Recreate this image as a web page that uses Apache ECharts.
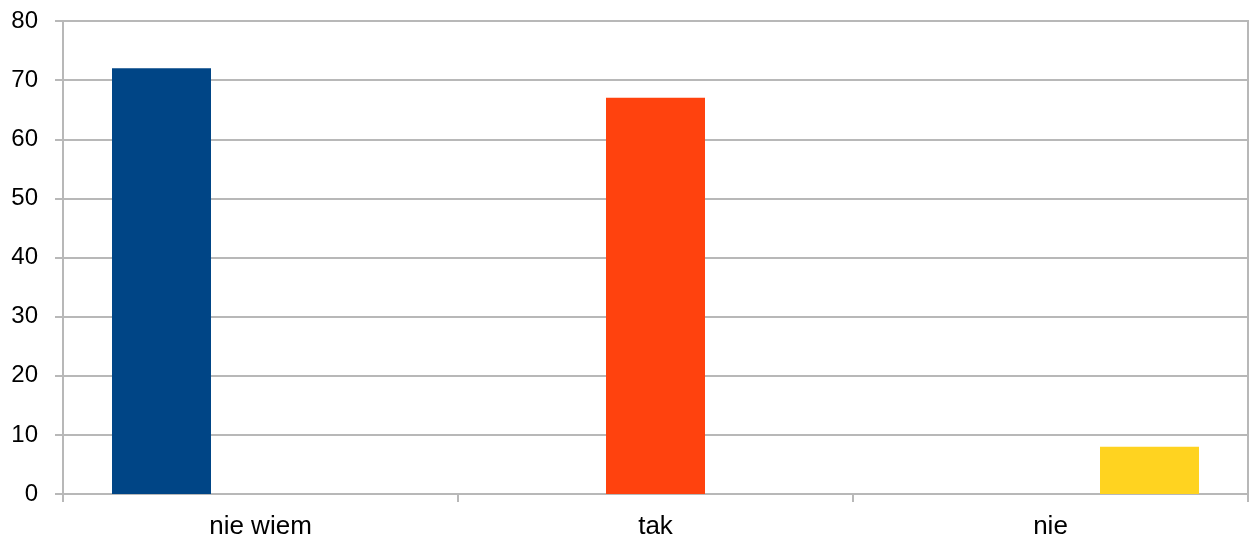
<!DOCTYPE html>
<html>
<head>
<meta charset="utf-8">
<script src="https://cdn.jsdelivr.net/npm/echarts@6/dist/echarts.min.js"></script>
<style>
html,body{margin:0;padding:0;background:#fff;}
#chart{width:1250px;height:540px;}
</style>
</head>
<body>
<div id="chart"></div>
<script>
const categories = ['nie wiem', 'tak', 'nie'];
const seriesNieWiem = [72, 0, 0];
const seriesTak = [0, 67, 0];
const seriesNie = [0, 0, 8];
const yTicks = { min: 0, max: 80, interval: 10 };
const colors = ['#004586', '#ff420e', '#ffd320'];

const chart = echarts.init(document.getElementById('chart'), null, { renderer: 'canvas' });
const font = 'Liberation Sans, Arial, sans-serif';
const lineColor = '#b8b8b8';
function bar(name, data, color) {
  return {
    name: name, type: 'bar', data: data, barWidth: 99, barGap: '0%',
    itemStyle: { color: color }, silent: true, animation: false
  };
}
chart.setOption({
  animation: false,
  grid: { left: 63, right: 2, top: 21, bottom: 45, show: true, borderColor: lineColor, borderWidth: 2, containLabel: false },
  xAxis: {
    type: 'category', data: categories,
    axisLine: { lineStyle: { color: lineColor, width: 2 } },
    axisTick: { show: true, length: 8, lineStyle: { color: lineColor, width: 2 } },
    axisLabel: { color: '#000', fontFamily: font, fontSize: 26, margin: 20 },
    splitLine: { show: false }
  },
  yAxis: {
    type: 'value', min: yTicks.min, max: yTicks.max, interval: yTicks.interval,
    axisLine: { show: true, lineStyle: { color: lineColor, width: 2 } },
    axisTick: { show: true, length: 8, lineStyle: { color: lineColor, width: 2 } },
    axisLabel: { color: '#000', fontFamily: font, fontSize: 24, margin: 25 },
    splitLine: { show: true, lineStyle: { color: lineColor, width: 2 } }
  },
  series: [
    bar('nie wiem', seriesNieWiem, colors[0]),
    bar('tak', seriesTak, colors[1]),
    bar('nie', seriesNie, colors[2])
  ]
});
</script>
</body>
</html>
